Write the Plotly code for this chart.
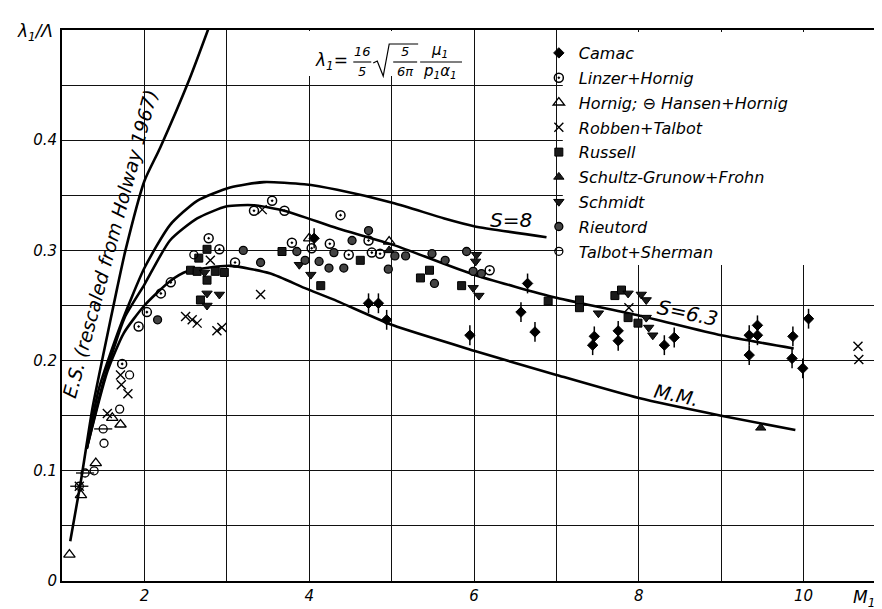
import plotly.graph_objects as go

# ---------------- data ----------------
camac_x = [4.72, 4.84, 4.94, 5.95, 6.57, 6.65, 6.74, 7.44, 7.46, 7.75, 7.75, 8.31, 8.43,
           9.34, 9.34, 9.44, 9.44, 9.86, 9.87, 9.99, 10.06, 4.06]
camac_y = [0.252, 0.252, 0.237, 0.223, 0.244, 0.270, 0.226, 0.214, 0.222, 0.218, 0.227, 0.214, 0.221,
           0.205, 0.223, 0.223, 0.232, 0.202, 0.222, 0.193, 0.238, 0.311]

linzer_x = [1.73, 1.93, 2.03, 2.20, 2.32, 2.78, 2.91, 3.10, 3.33, 3.55, 3.70, 3.79, 4.03, 4.25,
            4.38, 4.48, 4.72, 4.76, 4.86, 6.19]
linzer_y = [0.197, 0.231, 0.244, 0.261, 0.271, 0.311, 0.301, 0.289, 0.336, 0.345, 0.336, 0.307, 0.302, 0.306,
            0.332, 0.296, 0.309, 0.298, 0.297, 0.282]

hornig_x = [1.09, 1.23, 1.41, 1.61, 1.71, 4.00, 4.97]
hornig_y = [0.024, 0.078, 0.107, 0.148, 0.142, 0.311, 0.308]

hansen_x = [1.21, 1.28, 1.50]
hansen_y = [0.086, 0.098, 0.138]

robben_x = [1.21, 1.55, 1.71, 1.72, 1.80, 2.50, 2.58, 2.64, 2.88, 2.94, 2.80, 3.41, 3.43, 7.88, 10.66, 10.67]
robben_y = [0.086, 0.152, 0.187, 0.178, 0.170, 0.240, 0.237, 0.234, 0.227, 0.230, 0.291, 0.260, 0.337, 0.248, 0.213, 0.201]

russell_x = [2.56, 2.64, 2.86, 2.97, 2.76, 2.68, 2.76, 2.66, 3.67, 4.14, 4.62, 5.46, 5.35, 5.85,
             6.90, 7.28, 7.28, 7.71, 7.79, 7.87, 7.99]
russell_y = [0.282, 0.281, 0.281, 0.280, 0.273, 0.255, 0.301, 0.293, 0.299, 0.268, 0.291, 0.282, 0.275, 0.268,
             0.254, 0.255, 0.248, 0.259, 0.264, 0.239, 0.234]

schultz_x = [9.48, 4.97]
schultz_y = [0.139, 0.300]

schmidt_x = [2.76, 2.91, 2.76, 2.73, 3.88, 4.02, 6.03, 6.02, 5.99, 6.06, 7.51, 7.87, 8.03, 8.09, 8.09, 8.12, 8.17]
schmidt_y = [0.261, 0.260, 0.250, 0.280, 0.287, 0.278, 0.296, 0.290, 0.266, 0.259, 0.243, 0.261, 0.260, 0.255,
             0.239, 0.230, 0.223]

rieutord_x = [2.16, 3.20, 3.41, 3.85, 3.95, 4.12, 4.24, 4.30, 4.42, 4.52, 4.72, 4.96, 5.04, 5.17, 5.49,
              5.65, 5.52, 5.91, 6.09, 5.99]
rieutord_y = [0.237, 0.300, 0.289, 0.299, 0.291, 0.290, 0.284, 0.298, 0.284, 0.309, 0.318, 0.283, 0.295, 0.295,
              0.297, 0.291, 0.270, 0.299, 0.279, 0.281]

talbot_x = [1.39, 1.51, 1.70, 1.82, 2.60]
talbot_y = [0.100, 0.125, 0.156, 0.187, 0.296]

# theory curves
es_x = [1.10, 1.23, 1.37, 1.50, 1.67, 1.77, 2.00, 2.19, 2.55, 2.82]
es_y = [0.036, 0.091, 0.157, 0.205, 0.266, 0.300, 0.363, 0.393, 0.456, 0.510]

s8_x = [1.30, 1.45, 1.71, 2.00, 2.31, 2.64, 3.04, 3.45, 3.94, 4.34, 5.02, 5.64, 6.00, 6.88]
s8_y = [0.120, 0.175, 0.232, 0.284, 0.323, 0.345, 0.357, 0.362, 0.360, 0.355, 0.343, 0.329, 0.322, 0.312]

s63_x = [1.30, 1.50, 1.76, 2.00, 2.31, 2.64, 3.00, 3.33, 3.70, 4.34, 5.02, 6.00, 7.00, 8.00, 9.00, 9.88]
s63_y = [0.120, 0.180, 0.239, 0.269, 0.309, 0.329, 0.340, 0.341, 0.336, 0.320, 0.305, 0.278, 0.257, 0.241, 0.223, 0.211]

mm_x = [1.30, 1.55, 1.75, 2.00, 2.31, 2.52, 3.04, 3.53, 3.94, 4.34, 5.02, 6.00, 7.00, 8.00, 9.00, 9.90]
mm_y = [0.120, 0.190, 0.225, 0.250, 0.272, 0.281, 0.286, 0.279, 0.266, 0.254, 0.232, 0.209, 0.187, 0.166, 0.150, 0.137]

x_ticks = [2, 4, 6, 8, 10]
x_ticktext = ["2", "4", "6", "8", "10"]
y_ticks = [0, 0.1, 0.2, 0.3, 0.4]
y_ticktext = ["0", "0.1", "0.2", "0.3", "0.4"]

# ---------------- layout geometry ----------------
W, H = 882, 609
ML, MR, MT, MB = 54, 2, 22, 36
PW, PH = W - ML - MR, H - MT - MB
FONT = "DejaVu Sans, Liberation Sans, sans-serif"


def px(xp):
    return (xp - ML) / PW


def py(yp):
    return 1 - (yp - MT) / PH


fig = go.Figure()

line_style = dict(color="black", width=2.6)
for cx, cy in [(es_x, es_y), (s8_x, s8_y), (s63_x, s63_y), (mm_x, mm_y)]:
    fig.add_trace(go.Scatter(x=cx, y=cy, mode="lines", line=dict(shape="spline", smoothing=0.6, **line_style),
                             showlegend=False, hoverinfo="skip"))

series = [
    ("Camac", camac_x, camac_y, dict(symbol="diamond", size=8, color="black",
                                     line=dict(color="black", width=1)),
     dict(type="constant", value=0.009, thickness=1.5, width=0, color="black")),
    ("Linzer+Hornig", linzer_x, linzer_y, dict(symbol="circle-open-dot", size=9, color="black",
                                                line=dict(color="black", width=1.5)), None),
    ("Hornig; \u2296 Hansen+Hornig", hornig_x, hornig_y, dict(symbol="triangle-up-open", size=10, color="black",
                                                                line=dict(color="black", width=1.3)), None),
    ("Robben+Talbot", robben_x, robben_y, dict(symbol="x-thin-open", size=9, color="black",
                                                line=dict(color="black", width=1.4)), None),
    ("Russell", russell_x, russell_y, dict(symbol="square", size=8, color="#1a1a1a",
                                            line=dict(color="black", width=1)), None),
    ("Schultz-Grunow+Frohn", schultz_x, schultz_y, dict(symbol="triangle-up", size=9, color="#1a1a1a",
                                                         line=dict(color="black", width=1)), None),
    ("Schmidt", schmidt_x, schmidt_y, dict(symbol="triangle-down", size=9, color="#1a1a1a",
                                            line=dict(color="black", width=1)), None),
    ("Rieutord", rieutord_x, rieutord_y, dict(symbol="circle", size=8, color="#444444",
                                               line=dict(color="black", width=1.3)), None),
    ("Talbot+Sherman", talbot_x, talbot_y, dict(symbol="circle-open", size=8, color="black",
                                                 line=dict(color="black", width=1.3)), None),
]

for i, (name, sx, sy, mk, ey) in enumerate(series):
    kw = {}
    if ey is not None:
        kw["error_y"] = ey
    fig.add_trace(go.Scatter(x=sx, y=sy, mode="markers", name=name, marker=mk,
                             legendgroup=f"g{i}", **kw))
    if i == 2:
        fig.add_trace(go.Scatter(x=hansen_x, y=hansen_y, mode="markers", name="Hansen+Hornig",
                                 marker=dict(symbol="circle-open", size=8, color="black",
                                             line=dict(color="black", width=1.3)),
                                 error_x=dict(type="constant", value=0.11, thickness=1.3, width=0, color="black"),
                                 showlegend=False, legendgroup=f"g{i}"))

grid = dict(showgrid=True, gridcolor="#111111", gridwidth=1.4)
axis_common = dict(showline=True, linecolor="black", linewidth=1.8, mirror=True, ticks="",
                   zeroline=False,
                   tickfont=dict(family=FONT, size=15, color="black", style="italic"))

fig.update_xaxes(range=[1.0, 11.0], tickvals=x_ticks, ticktext=x_ticktext,
                 minor=dict(dtick=1, tick0=0, **grid), **grid, **axis_common)
fig.update_yaxes(range=[0, 0.5], tickvals=y_ticks, ticktext=y_ticktext,
                 minor=dict(dtick=0.05, tick0=0, **grid), **grid, **axis_common)

shapes = [
    # white boxes (erasing grid under the formula and the legend; no data lies there)
    dict(type="rect", xref="paper", yref="paper", x0=px(300), x1=px(465), y0=py(68), y1=py(23),
         fillcolor="white", line=dict(width=0), layer="above"),
    dict(type="rect", xref="paper", yref="paper", x0=px(556), x1=px(879), y0=py(257), y1=py(24),
         fillcolor="white", line=dict(width=0), layer="above"),
    # fraction bars of the formula
    dict(type="line", xref="paper", yref="paper", x0=px(346), x1=px(364), y0=py(54), y1=py(54),
         line=dict(color="black", width=1.1)),
    dict(type="line", xref="paper", yref="paper", x0=px(386), x1=px(410), y0=py(54), y1=py(54),
         line=dict(color="black", width=1.1)),
    dict(type="line", xref="paper", yref="paper", x0=px(413), x1=px(455), y0=py(54), y1=py(54),
         line=dict(color="black", width=1.1)),
    # radical sign
    dict(type="path", xref="paper", yref="paper",
         path=f"M {px(366)},{py(55)} L {px(370)},{py(53)} L {px(376)},{py(68)} L {px(382)},{py(36)} L {px(411)},{py(36)}",
         line=dict(color="black", width=1.2)),
]

ann = []


def add_text(text, xp, yp, size=15, angle=0, xanchor="center"):
    ann.append(dict(text=text, x=px(xp), y=py(yp), xref="paper", yref="paper", showarrow=False,
                    textangle=angle, xanchor=xanchor, yanchor="middle",
                    font=dict(family=FONT, size=size, color="black", style="italic")))


add_text("\u03bb<sub>1</sub>/\u039b", 27, 24, size=17)
add_text("M<sub>1</sub>", 858, 590, size=17)
add_text("\u03bb<sub>1</sub>=", 324, 54, size=17)
add_text("16", 355, 44, size=13)
add_text("5", 355, 64, size=13)
add_text("5", 398, 44, size=13)
add_text("6\u03c0", 398, 64, size=13)
add_text("\u03bc<sub>1</sub>", 432, 43, size=15)
add_text("p<sub>1</sub>\u03b1<sub>1</sub>", 433, 64, size=15)
add_text("E.S. (rescaled from Holway 1967)", 102, 236, size=19, angle=-75)
add_text("S=8", 504, 212, size=20)
add_text("S=6.3", 681, 305, size=20, angle=12)
add_text("M.M.", 670, 387, size=19, angle=12)

fig.update_layout(
    width=W, height=H,
    margin=dict(l=ML, r=MR, t=MT, b=MB),
    paper_bgcolor="white", plot_bgcolor="white",
    font=dict(family=FONT, size=15, color="black", style="italic"),
    shapes=shapes, annotations=ann,
    legend=dict(x=px(532), y=py(28), xanchor="left", yanchor="top",
                bgcolor="rgba(0,0,0,0)", borderwidth=0, tracegroupgap=1,
                font=dict(family=FONT, size=16, color="black", style="italic"),
                itemwidth=30),
    showlegend=True,
)

fig.write_html("out.html")
